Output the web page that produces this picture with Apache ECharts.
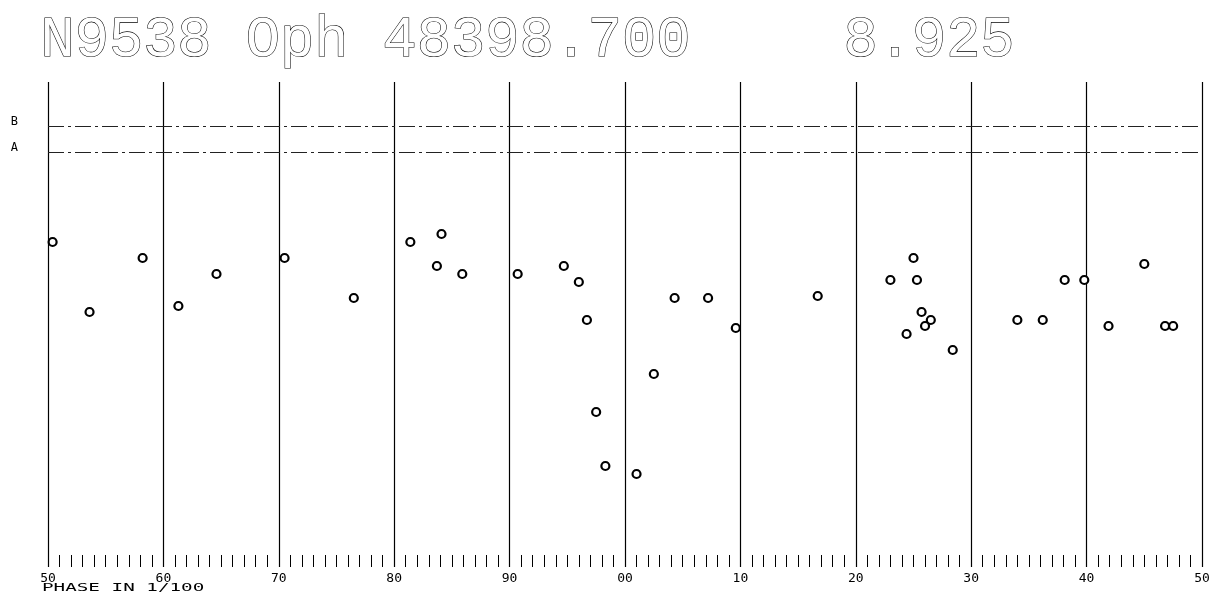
<!DOCTYPE html>
<html>
<head>
<meta charset="utf-8">
<script src="https://cdn.jsdelivr.net/npm/echarts@6/dist/echarts.min.js"></script>
<style>
html,body{margin:0;padding:0;background:#fff;}
#c{width:1220px;height:606px;}
</style>
</head>
<body>
<div id="c"></div>
<script>
// ---- data ----
const titleLeft = 'N9538 Oph 48398.700';
const titleRight = '8.925';
const xTitle = 'PHASE IN 1/100';
const tickLabels = ['50','60','70','80','90','00','10','20','30','40','50'];
const refNames = ['B','A'];
const refLevels = [8.22, 8.345];
const phases = [0.504,0.536,0.582,0.613,0.646,0.705,0.765,0.814,0.841,0.837,0.859,0.907,0.947,0.960,0.967,0.975,0.983,1.010,1.025,1.043,1.072,1.096,1.167,1.230,1.250,1.253,1.257,1.265,1.260,1.244,1.284,1.340,1.362,1.381,1.398,1.450,1.419,1.468,1.475];
const mags   = [8.80,9.15,8.88,9.12,8.96,8.88,9.08,8.80,8.76,8.92,8.96,8.96,8.92,9.00,9.19,9.65,9.92,9.96,9.46,9.08,9.08,9.23,9.07,8.99,8.88,8.99,9.15,9.19,9.22,9.26,9.34,9.19,9.19,8.99,8.99,8.91,9.22,9.22,9.22];

const points = phases.map((p,i)=>[p, mags[i]]);

const chart = echarts.init(document.getElementById('c'), null, {renderer:'canvas'});
chart.setOption({
  animation:false,
  backgroundColor:'#fff',
  grid:{left:48,right:18,top:82,bottom:39,containLabel:false},
  xAxis:{
    type:'value',min:0.5,max:1.5,interval:0.1,
    axisLine:{show:false},
    axisTick:{show:true,inside:true,length:14,lineStyle:{color:'#000',width:1}},
    minorTick:{show:true,splitNumber:10,length:12,lineStyle:{color:'#000',width:1}},
    splitLine:{show:true,showMinLine:true,showMaxLine:true,lineStyle:{color:'#000',width:1.2}},
    axisLabel:{
      margin:5,color:'#000',fontFamily:'DejaVu Sans Mono',fontSize:13,
      formatter:(v)=>tickLabels[Math.round((v-0.5)*10)]
    }
  },
  yAxis:{
    type:'value',inverse:true,min:8.0,max:10.425,
    axisLine:{show:false},axisTick:{show:false},axisLabel:{show:false},splitLine:{show:false}
  },
  series:[{
    type:'scatter',
    data:points,
    symbol:'circle',symbolSize:8,
    itemStyle:{color:'#fff',borderColor:'#000',borderWidth:2.2,opacity:1},
    markLine:{
      silent:true,symbol:['none','none'],
      lineStyle:{color:'#222',width:1,type:[16,4,3,4]},
      label:{show:true,position:'start',distance:30,offset:[0,-4],formatter:'{b}',color:'#000',fontFamily:'DejaVu Sans Mono',fontSize:12},
      data:refNames.map((n,i)=>({name:n,yAxis:refLevels[i]}))
    }
  }],
  graphic:[
    {type:'text',left:40,top:12,style:{text:titleLeft,font:'57px "Liberation Mono"',fill:'#fff',stroke:'#000',lineWidth:1.1}},
    {type:'text',left:843,top:12,style:{text:titleRight,font:'57px "Liberation Mono"',fill:'#fff',stroke:'#000',lineWidth:1.1}},
    {type:'text',x:42,y:588,scaleX:1.75,style:{text:xTitle,font:'11px "DejaVu Sans Mono"',fill:'#000',verticalAlign:'middle'}}
  ]
});
</script>
</body>
</html>
